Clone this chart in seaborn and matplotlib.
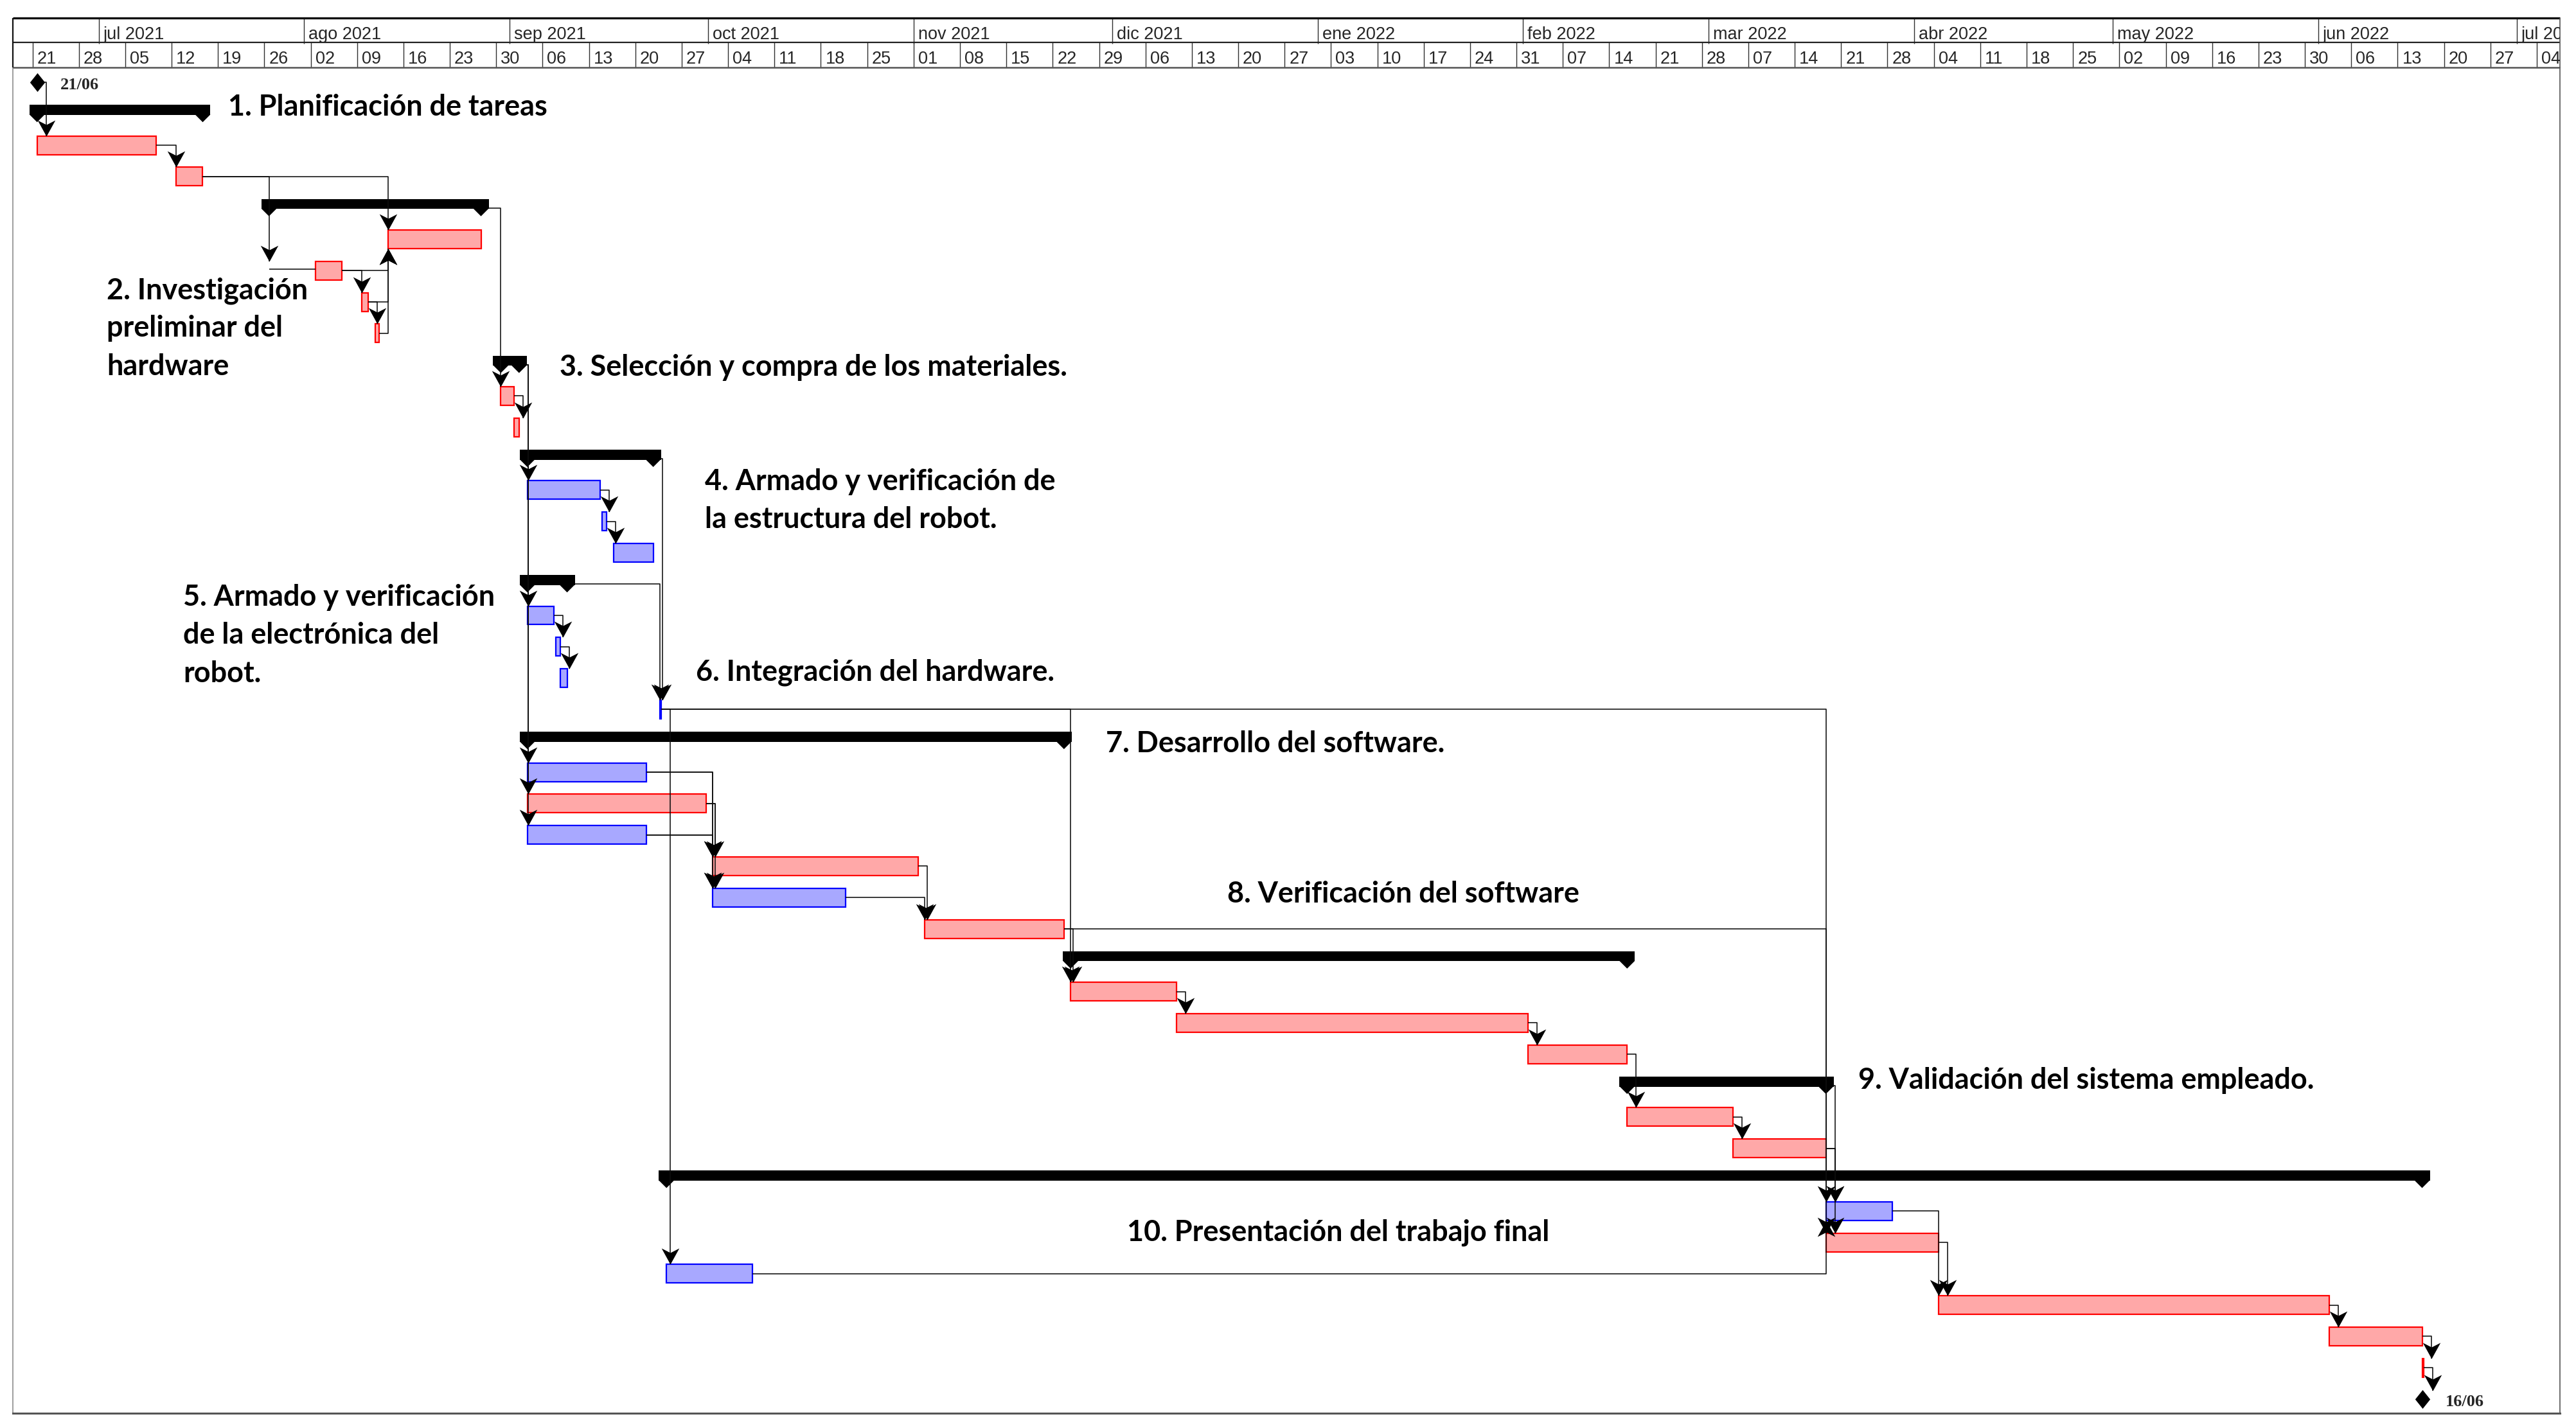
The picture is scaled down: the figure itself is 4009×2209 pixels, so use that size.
import matplotlib
matplotlib.use("Agg")
import matplotlib.pyplot as plt
import matplotlib.dates as mdates
from matplotlib.collections import LineCollection, PolyCollection
import numpy as np
import pandas as pd
import seaborn as sns

# ============================ data ============================
row_kind = ["milestone", "summary", "critical", "critical", "summary", "critical", "critical", "critical", "critical",
            "summary", "critical", "critical", "summary", "normal", "normal", "normal", "summary", "normal", "normal",
            "normal", "normal", "summary", "normal", "critical", "normal", "critical", "normal", "critical", "summary",
            "critical", "critical", "critical", "summary", "critical", "critical", "summary", "normal", "critical",
            "normal", "critical", "critical", "critical", "milestone"]

row_start = ["2021-06-21", "2021-06-21", "2021-06-21", "2021-07-12", "2021-07-26", "2021-08-13", "2021-08-02",
             "2021-08-09", "2021-08-11", "2021-08-30", "2021-08-30", "2021-09-01", "2021-09-03", "2021-09-03",
             "2021-09-14 06:00", "2021-09-16", "2021-09-03", "2021-09-03", "2021-09-07 08:00", "2021-09-08",
             "2021-09-23", "2021-09-03", "2021-09-03", "2021-09-03", "2021-09-03", "2021-10-01", "2021-10-01",
             "2021-11-02", "2021-11-24", "2021-11-24", "2021-12-10", "2022-02-01", "2022-02-16", "2022-02-16",
             "2022-03-04", "2021-09-24", "2022-03-18", "2022-03-18", "2021-09-24", "2022-04-04", "2022-06-02",
             "2022-06-16", "2022-06-16"]

row_end = ["2021-06-21", "2021-07-16", "2021-07-09", "2021-07-16", "2021-08-27", "2021-08-27", "2021-08-06",
           "2021-08-10", "2021-08-11 16:00", "2021-09-01 18:00", "2021-09-01", "2021-09-01 18:00", "2021-09-22",
           "2021-09-14", "2021-09-15", "2021-09-22", "2021-09-09", "2021-09-07", "2021-09-08", "2021-09-09",
           "2021-09-23 06:00", "2021-11-23", "2021-09-21", "2021-09-30", "2021-09-21", "2021-11-01", "2021-10-21",
           "2021-11-23", "2022-02-16", "2021-12-10", "2022-02-01", "2022-02-16", "2022-03-18", "2022-03-04",
           "2022-03-18", "2022-06-16", "2022-03-28", "2022-04-04", "2021-10-07", "2022-06-02", "2022-06-16",
           "2022-06-16 06:00", "2022-06-16"]

# finish-to-start links (predecessor row, successor row)
links = [(0, 2), (2, 3), (3, 5), (6, 7), (6, 5), (7, 8), (7, 5), (8, 5), (4, 10), (10, 11),
         (9, 13), (9, 17), (9, 22), (9, 23), (9, 24), (13, 14), (14, 15), (17, 18), (18, 19),
         (12, 20), (16, 20), (20, 38), (20, 29), (20, 36), (22, 25), (22, 26), (23, 25), (23, 26),
         (24, 25), (24, 26), (25, 27), (26, 27), (27, 29), (27, 37), (29, 30), (30, 31), (31, 33),
         (33, 34), (34, 36), (34, 37), (32, 36), (36, 39), (37, 39), (38, 36), (39, 40), (40, 41), (41, 42)]
# link drawn through the start of a summary: (pred, succ, summary)
links_via_summary = [(3, 6, 4)]

labels = ["1. Planificación de tareas",
          "2. Investigación\npreliminar del\nhardware",
          "3. Selección y compra de los materiales.",
          "4. Armado y verificación de\nla estructura del robot.",
          "5. Armado y verificación\nde la electrónica del\nrobot.",
          "6. Integración del hardware.",
          "7. Desarrollo del software.",
          "8. Verificación del software",
          "9. Validación del sistema empleado.",
          "10. Presentación del trabajo final"]

month_abbr = ["ene", "feb", "mar", "abr", "may", "jun", "jul", "ago", "sep", "oct", "nov", "dic"]
AXIS_START, AXIS_END = "2021-06-18", "2022-07-07 12:00"

# ============================ layout ============================
W, H, DPI = 4009, 2209, 100
PX_LEFT, PX_RIGHT = 19.6, 3984
PX_HEAD_TOP, PX_HEAD_MID, PX_HEAD_BOT, PX_BOTTOM = 28, 66, 105, 2200
ROW0_PX, ROW_PX = 128.4, 48.8
# label anchors (left, first baseline) in figure pixels, line pitch
label_pos = [(355, 180), (166, 465), (871, 585), (1097, 763), (285, 943),
             (1083, 1060), (1721, 1171), (1910, 1405), (2892, 1695), (1754, 1932)]
LINE_PITCH = 59.3
LABEL_FS = 32.4

sns.set_theme(style="white")
plt.rcParams["font.family"] = ["DejaVu Sans"]

fig = plt.figure(figsize=(W / DPI, H / DPI), dpi=DPI)
fig.patch.set_facecolor("white")


def fx(px):
    return px / W


def fy(py):
    return 1 - py / H


ax = fig.add_axes([fx(PX_LEFT), fy(PX_BOTTOM), fx(PX_RIGHT) - fx(PX_LEFT), fy(PX_HEAD_BOT) - fy(PX_BOTTOM)])
axh = fig.add_axes([fx(PX_LEFT), fy(PX_HEAD_BOT), fx(PX_RIGHT) - fx(PX_LEFT), fy(PX_HEAD_TOP) - fy(PX_HEAD_BOT)])

x0 = mdates.date2num(pd.Timestamp(AXIS_START))
x1 = mdates.date2num(pd.Timestamp(AXIS_END))
DAY_PX = (PX_RIGHT - PX_LEFT) / (x1 - x0)
SHIFT = 7.2 / DAY_PX          # bars start at the working-day start, slightly after the day boundary
CAP = 12 / DAY_PX             # summary end caps half width
STUB = 14 / DAY_PX            # link stub
BAR_H = 29 / ROW_PX
HALF = 14.5 / ROW_PX

kind = np.array(row_kind)
rows = np.arange(len(row_kind), dtype=float)
start_dt = pd.to_datetime(row_start, format="mixed")
end_dt = pd.to_datetime(row_end, format="mixed")
xs = mdates.date2num(start_dt) + SHIFT
xe = mdates.date2num(end_dt) + SHIFT

ax.set_xlim(x0, x1)
ax.set_ylim((PX_BOTTOM - ROW0_PX) / ROW_PX, (PX_HEAD_BOT - ROW0_PX) / ROW_PX)
ax.set_xticks([])
ax.set_yticks([])
ax.set_facecolor("white")
ax.spines["top"].set_visible(False)
ax.spines["left"].set_color("#8c8c8c")
ax.spines["left"].set_linewidth(1.2)
ax.spines["right"].set_color("#555555")
ax.spines["right"].set_linewidth(1.2)
ax.spines["bottom"].set_color("#555555")
ax.spines["bottom"].set_linewidth(2.2)

# ---------------- task bars ----------------
for k, fc, ec in [("critical", "#FFA8A8", "#FF0000"), ("normal", "#A8A8FF", "#0000FF")]:
    m = kind == k
    ax.barh(rows[m], xe[m] - xs[m], left=xs[m], height=BAR_H, color=fc, edgecolor=ec,
            linewidth=1.6, zorder=3)

# ---------------- summary bars ----------------
ms = kind == "summary"
bt, bb, tip = -14 / ROW_PX, 1.5 / ROW_PX, 13 / ROW_PX
ax.barh(rows[ms] + (bt + bb) / 2, (xe[ms] + CAP) - (xs[ms] - CAP), left=xs[ms] - CAP, height=bb - bt,
        color="black", linewidth=0, zorder=3)
tris = []
for r, a, b in zip(rows[ms], xs[ms], xe[ms]):
    for xc in (a, b):
        tris.append([(xc - CAP, r + bb - 0.01), (xc + CAP, r + bb - 0.01), (xc, r + tip)])
ax.add_collection(PolyCollection(tris, facecolors="black", edgecolors="none", zorder=3))

# ---------------- milestones ----------------
mm = kind == "milestone"
diamond = [(0, 1), (0.8, 0), (0, -1), (-0.8, 0), (0, 1)]
sns.scatterplot(x=xs[mm], y=rows[mm], marker=diamond, s=21 ** 2, color="black", linewidth=0,
                ax=ax, zorder=6, legend=False)
for r, xm, d in zip(rows[mm], xs[mm], start_dt[mm]):
    ax.text(xm + 36 / DAY_PX, r + 11 / ROW_PX, d.strftime("%d/%m"), fontfamily="Liberation Serif",
            fontweight="bold", fontsize=19, va="baseline", ha="left", zorder=6)

# ---------------- links ----------------
segs, tips_down, tips_up = [], [], []


def top_of(j):
    return rows[j] - (13 / ROW_PX if kind[j] == "milestone" else HALF)


def bottom_of(j):
    return rows[j] + HALF


for i, j in links:
    base = xs[i] if kind[i] == "milestone" else xe[i]
    start = base + CAP if kind[i] == "summary" else base
    xa = max(base + STUB, xs[j])
    yi = rows[i]
    if j > i:
        yt = top_of(j)
        tips_down.append((xa, yt))
    else:
        yt = bottom_of(j)
        tips_up.append((xa, yt))
    segs.append([(start, yi), (xa, yi), (xa, yt)])

for i, j, p in links_via_summary:
    xa = xs[p]
    yt = top_of(j)
    segs.append([(xe[i], rows[i]), (xa, rows[i]), (xa, yt)])
    segs.append([(xa, rows[j] - 2 / ROW_PX), (xs[j], rows[j] - 2 / ROW_PX)])
    tips_down.append((xa, yt))

ax.add_collection(LineCollection(segs, colors="#0d0d0d", linewidths=1.15, zorder=4))
arrow_down = [(0, 0), (-0.55, 1), (0, 0.72), (0.55, 1), (0, 0)]
arrow_up = [(0, 0), (-0.55, -1), (0, -0.72), (0.55, -1), (0, 0)]
for tl, mk in [(tips_down, arrow_down), (tips_up, arrow_up)]:
    if tl:
        t = np.array(tl)
        ax.scatter(t[:, 0], t[:, 1], marker=mk, s=36 ** 2, color="black", linewidths=0, zorder=5)

# ---------------- header (timescale) ----------------
HH = PX_HEAD_BOT - PX_HEAD_TOP
MID = PX_HEAD_BOT - PX_HEAD_MID
axh.set_xlim(x0, x1)
axh.set_ylim(0, HH)
axh.axis("off")
months = pd.date_range("2021-06-01", "2022-07-01", freq="MS")
weeks = pd.date_range("2021-06-21", "2022-07-04", freq="7D")
mnum = mdates.date2num(months)
wnum = mdates.date2num(weeks)
axh.vlines(mnum[mnum > x0], MID - 2, HH, color="#303030", linewidth=1.0)
axh.vlines(wnum, 0, MID + 1, color="#303030", linewidth=1.0)
axh.hlines([HH], x0, x1, color="#111111", linewidth=2.4, clip_on=False)
axh.hlines([MID], x0, x1, color="#222222", linewidth=1.6, clip_on=False)
axh.hlines([0], x0, x1, color="#555555", linewidth=1.8, clip_on=False)
axh.vlines([x0], 0, HH, color="#111111", linewidth=1.6, clip_on=False)
axh.vlines([x1], 0, HH, color="#555555", linewidth=1.2, clip_on=False)
TXT_OFF = 7 / DAY_PX
for d, xv in zip(months, mnum):
    if xv > x0:
        axh.text(xv + TXT_OFF, PX_HEAD_BOT - 61, f"{month_abbr[d.month - 1]} {d.year}",
                 fontfamily="Liberation Sans", fontsize=19.5, va="baseline", ha="left", clip_on=True)
for d, xv in zip(weeks, wnum):
    axh.text(xv + TXT_OFF, PX_HEAD_BOT - 99, d.strftime("%d"), fontfamily="Liberation Sans",
             fontsize=19.5, va="baseline", ha="left", clip_on=True)

# ---------------- phase labels ----------------
for txt, (lx, ly) in zip(labels, label_pos):
    for k, line in enumerate(txt.split("\n")):
        fig.text(fx(lx), fy(ly + k * LINE_PITCH), line, fontfamily="Lato", fontweight="bold",
                 fontsize=LABEL_FS, va="baseline", ha="left", color="black")

fig.savefig("out.png", dpi=DPI, facecolor="white")
